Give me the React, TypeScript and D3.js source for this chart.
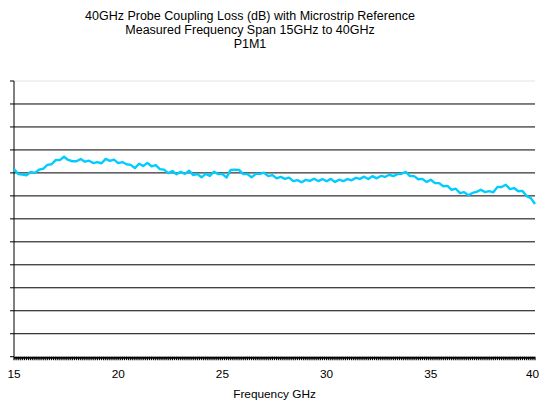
import React from "react"
import * as d3 from "d3"

// sampled every 0.2 GHz from 15 to 40 GHz
const freqs = d3.range(0, 126).map((i) => 15 + i * 0.2)

// coupling loss, dB
const loss = [
  -0.958, -1.013, -1.017, -1.026, -0.989, -1.000, -0.965, -0.955, -0.913, -0.906,
  -0.860, -0.861, -0.824, -0.859, -0.873, -0.874, -0.848, -0.878, -0.867, -0.893,
  -0.882, -0.895, -0.848, -0.870, -0.856, -0.893, -0.882, -0.906, -0.913, -0.948,
  -0.900, -0.924, -0.891, -0.928, -0.915, -0.959, -0.965, -1.002, -0.980, -1.015,
  -0.989, -1.011, -0.976, -1.024, -1.013, -1.048, -1.011, -1.033, -0.987, -1.013,
  -1.013, -1.050, -0.967, -0.966, -0.967, -1.013, -1.013, -1.048, -1.011, -1.011,
  -0.998, -1.035, -1.024, -1.059, -1.043, -1.065, -1.052, -1.089, -1.078, -1.102,
  -1.076, -1.087, -1.063, -1.089, -1.067, -1.091, -1.065, -1.098, -1.074, -1.089,
  -1.067, -1.080, -1.054, -1.065, -1.041, -1.067, -1.035, -1.059, -1.033, -1.044,
  -1.020, -1.035, -1.013, -1.009, -0.989, -1.035, -1.035, -1.069, -1.065, -1.098,
  -1.074, -1.111, -1.111, -1.146, -1.141, -1.185, -1.172, -1.220, -1.209, -1.244,
  -1.218, -1.207, -1.183, -1.209, -1.198, -1.211, -1.152, -1.153, -1.129, -1.176,
  -1.165, -1.200, -1.196, -1.252, -1.274, -1.338,
]

const xTicks = [15, 20, 25, 30, 35, 40]
const yTicks = d3.range(0, 13).map((i) => -3 + i * 0.25)

const titleLines = [
  "40GHz Probe Coupling Loss (dB) with Microstrip Reference",
  "Measured Frequency Span 15GHz to 40GHz",
  "P1M1",
]

const W = 539
const H = 405
const left = 14, right = 535, top = 81, bottom = 356.7
const font = "'Liberation Sans', Arial, sans-serif"

export default function App() {
  const x = d3.scaleLinear().domain([15, 40]).range([left, right])
  const y = d3.scaleLinear().domain([-3, 0]).range([bottom, top])

  const line = d3.line<number>()
    .x((d, i) => x(freqs[i]))
    .y((d) => y(d))

  const minorTicks = d3.range(0, 251).map((i) => 15 + i * 0.1)

  return (
    <svg width={W} height={H} style={{ position: "absolute", left: 0, top: 0, background: "#fff" }}>
      {/* title */}
      {titleLines.map((t, i) => (
        <text key={t} x={250} y={19.5 + i * 14.3} textAnchor="middle" fontSize={12.5} fontFamily={font} fill="#000">{t}</text>
      ))}

      {/* plot area top border */}
      <line x1={left} x2={right} y1={top} y2={top} stroke="#e3e3e3" />

      {/* gridlines */}
      {yTicks.slice(1, -1).map((t) => (
        <line key={t} x1={left} x2={right} y1={y(t)} y2={y(t)} stroke="#000" strokeWidth={1} />
      ))}

      {/* y axis */}
      <line x1={left} x2={left} y1={top} y2={bottom} stroke="#000" />
      {yTicks.map((t) => (
        <line key={"yt" + t} x1={left - 4} x2={left} y1={y(t)} y2={y(t)} stroke="#000" />
      ))}

      {/* trace */}
      <path d={line(loss) || ""} fill="none" stroke="#00ccff" strokeWidth={2.4} strokeLinejoin="round" />

      {/* x axis with dense tick marks */}
      <line x1={left} x2={right} y1={bottom + 1} y2={bottom + 1} stroke="#000" strokeWidth={2} />
      {minorTicks.map((t) => (
        <line key={"xt" + t} x1={x(t)} x2={x(t)} y1={bottom} y2={bottom + 3.5} stroke="#000" strokeWidth={1.2} />
      ))}
      {xTicks.map((t, i) => (
        <text key={"xl" + t} x={i === xTicks.length - 1 ? W : x(t)} y={378} textAnchor={i === xTicks.length - 1 ? "end" : "middle"} fontSize={11.8} fontFamily={font} fill="#000">{t}</text>
      ))}

      <text x={(left + right) / 2} y={397.5} textAnchor="middle" fontSize={11.8} fontFamily={font} fill="#000">Frequency GHz</text>
    </svg>
  )
}
